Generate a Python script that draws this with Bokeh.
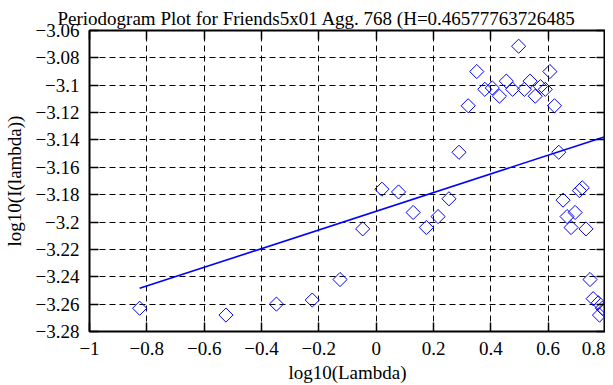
import math
from bokeh.plotting import figure
from bokeh.models import FixedTicker, LinearAxis, Range1d
from bokeh.embed import file_html
from bokeh.resources import INLINE

# --- data ---
log_lambda = [-0.825, -0.524, -0.348, -0.223, -0.126, -0.047, 0.020, 0.078, 0.129, 0.175,
              0.216, 0.254, 0.289, 0.321, 0.351, 0.379, 0.405, 0.430, 0.454, 0.476,
              0.497, 0.517, 0.537, 0.555, 0.573, 0.590, 0.606, 0.622, 0.637, 0.652,
              0.666, 0.680, 0.694, 0.709, 0.719, 0.732, 0.746, 0.757, 0.775, 0.779,
              0.789, 0.795]
log_I = [-3.263, -3.268, -3.260, -3.257, -3.242, -3.205, -3.176, -3.178, -3.193, -3.204,
         -3.196, -3.183, -3.149, -3.115, -3.090, -3.103, -3.102, -3.108, -3.097, -3.103,
         -3.0715, -3.103, -3.097, -3.108, -3.101, -3.103, -3.090, -3.115, -3.149, -3.184,
         -3.196, -3.204, -3.193, -3.177, -3.175, -3.205, -3.242, -3.256, -3.259, -3.268,
         -3.263, -3.264]
fit_slope = 0.0683
fit_intercept = -3.1921

x_ticks = [-1, -0.8, -0.6, -0.4, -0.2, 0, 0.2, 0.4, 0.6, 0.8]
x_tick_labels = ["\u22121", "\u22120.8", "\u22120.6", "\u22120.4", "\u22120.2", "0", "0.2", "0.4", "0.6", "0.8"]
y_ticks = [-3.28, -3.26, -3.24, -3.22, -3.2, -3.18, -3.16, -3.14, -3.12, -3.1, -3.08, -3.06]
y_tick_labels = ["\u22123.28", "\u22123.26", "\u22123.24", "\u22123.22", "\u22123.2", "\u22123.18",
                 "\u22123.16", "\u22123.14", "\u22123.12", "\u22123.1", "\u22123.08", "\u22123.06"]

title_text = "Periodogram Plot for Friends5x01 Agg. 768 (H=0.46577763726485"
FONT = "Liberation Serif"

p = figure(width=605, height=385, output_backend="svg", toolbar_location=None,
           x_range=Range1d(-1, 0.8), y_range=Range1d(-3.28, -3.06),
           min_border_left=83, min_border_right=0, min_border_top=30, min_border_bottom=54)

p.title.text = title_text
p.title.text_font = FONT
p.title.text_font_size = "19px"
p.title.text_font_style = "normal"
p.title.text_color = "black"
p.title.align = "left"
p.title.offset = -32
p.title.standoff = 0
p.title.vertical_align = "top"

p.outline_line_color = "black"
p.outline_line_width = 2
p.outline_line_alpha = 1

# fit line
fx = [min(log_lambda), max(log_lambda)]
fy = [fit_intercept + fit_slope * v for v in fx]
p.line(fx, fy, line_color="#0000ff", line_width=1.6)

p.scatter(log_lambda, log_I, marker="square", angle=math.pi / 4, size=10,
          fill_color=None, line_color="#0000ff", line_width=1)

for ax, ticks, labels in ((p.xaxis[0], x_ticks, x_tick_labels), (p.yaxis[0], y_ticks, y_tick_labels)):
    ax.ticker = FixedTicker(ticks=ticks)
    ax.major_label_overrides = {t: l for t, l in zip(ticks, labels)}
    ax.major_label_text_font = FONT
    ax.major_label_text_font_size = "19px"
    ax.major_label_text_color = "black"
    ax.axis_label_text_font = FONT
    ax.axis_label_text_font_size = "19px"
    ax.axis_label_text_font_style = "normal"
    ax.axis_label_text_color = "black"
    ax.major_tick_in = 9
    ax.major_tick_out = 0
    ax.major_tick_line_color = "black"
    ax.major_tick_line_width = 1.5
    ax.minor_tick_line_color = None
    ax.axis_line_color = None

p.xaxis[0].axis_label = "log10(Lambda)"
p.yaxis[0].axis_label = "log10(I(lambda))"
p.xaxis[0].major_label_standoff = 10
p.yaxis[0].major_label_standoff = 10
p.xaxis[0].axis_label_standoff = 4
p.yaxis[0].axis_label_standoff = 8

# mirror ticks on top and right (no labels)
top = LinearAxis(ticker=FixedTicker(ticks=x_ticks), major_label_overrides={t: "" for t in x_ticks},
                 major_label_text_font_size="1px",
                 major_tick_in=9, major_tick_out=0, minor_tick_line_color=None,
                 axis_line_color=None, major_tick_line_color="black", major_tick_line_width=1.5,
                 major_label_standoff=0)
right = LinearAxis(ticker=FixedTicker(ticks=y_ticks), major_label_overrides={t: "" for t in y_ticks},
                   major_label_text_font_size="1px",
                   major_tick_in=9, major_tick_out=0, minor_tick_line_color=None,
                   axis_line_color=None, major_tick_line_color="black", major_tick_line_width=1.5,
                   major_label_standoff=0)
p.add_layout(top, "above")
p.add_layout(right, "right")

for g in (p.xgrid[0], p.ygrid[0]):
    g.grid_line_color = "black"
    g.grid_line_dash = "6 4"
    g.grid_line_width = 1
    g.grid_line_alpha = 1

open("out.html", "w").write(file_html(p, INLINE))
